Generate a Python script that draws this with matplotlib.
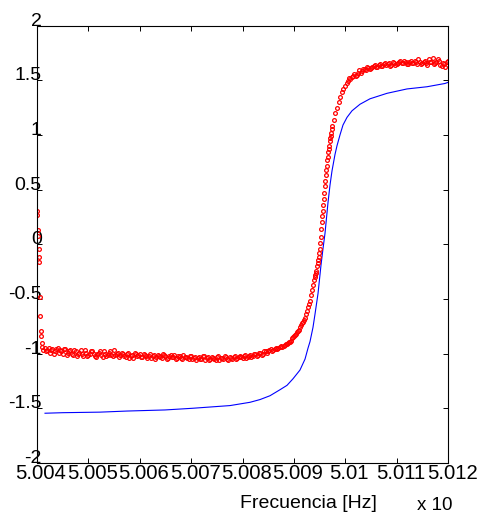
import matplotlib
matplotlib.use("Agg")
import matplotlib.pyplot as plt
from matplotlib.transforms import ScaledTranslation

plt.rcParams['font.family'] = ['Liberation Sans', 'DejaVu Sans']

# ---- data (x in units of 1e9 Hz) ----
red_f_start = [5.004000, 5.004008, 5.004016, 5.004024, 5.004032, 5.004040, 5.004048,
               5.004056, 5.004064, 5.004072, 5.004080, 5.004090, 5.004100, 5.004115]
red_v_start = [0.30, 0.27, 0.13, 0.08, -0.04, -0.12, -0.16,
               -0.48, -0.66, -0.79, -0.84, -0.90, -0.94, -0.97]

red_f_flat = [5.00415, 5.00420, 5.00425, 5.00430, 5.00435, 5.00440, 5.00445, 5.00450, 5.00455, 5.00460,
              5.00465, 5.00470, 5.00475, 5.00480, 5.00485, 5.00490, 5.00495, 5.00500, 5.00505, 5.00510,
              5.00515, 5.00520, 5.00525, 5.00530, 5.00535, 5.00540, 5.00545, 5.00550, 5.00555, 5.00560,
              5.00565, 5.00570, 5.00575, 5.00580, 5.00585, 5.00590, 5.00595, 5.00600, 5.00605, 5.00610,
              5.00615, 5.00620, 5.00625, 5.00630, 5.00635, 5.00640, 5.00645, 5.00650, 5.00655, 5.00660,
              5.00665, 5.00670, 5.00675, 5.00680, 5.00685, 5.00690, 5.00695, 5.00700, 5.00705, 5.00710,
              5.00715, 5.00720, 5.00725, 5.00730, 5.00735, 5.00740, 5.00745, 5.00750, 5.00755, 5.00760,
              5.00765, 5.00770, 5.00775, 5.00780, 5.00785, 5.00790, 5.00795, 5.00800, 5.00805, 5.00810,
              5.00815, 5.00820, 5.00825, 5.00830, 5.00835, 5.00840, 5.00845, 5.00850, 5.00855, 5.00860,
              5.00865, 5.00870, 5.00875, 5.00880]
red_v_flat = [-0.95, -0.97, -0.99, -0.96, -0.98, -0.95, -0.97, -1.00, -0.96, -0.99,
              -0.97, -1.01, -0.98, -1.00, -0.97, -1.02, -0.99, -1.01, -0.98, -1.00,
              -1.03, -0.99, -1.01, -0.98, -1.02, -0.99, -1.01, -0.97, -1.00, -1.03,
              -0.99, -1.02, -1.00, -1.04, -1.01, -0.99, -1.02, -1.00, -1.03, -1.01,
              -1.04, -1.00, -1.02, -1.05, -1.01, -1.03, -1.00, -1.02, -1.04, -1.01,
              -1.03, -1.05, -1.02, -1.04, -1.01, -1.03, -1.05, -1.02, -1.04, -1.06,
              -1.03, -1.05, -1.02, -1.04, -1.06, -1.03, -1.05, -1.03, -1.06, -1.04,
              -1.02, -1.05, -1.03, -1.05, -1.02, -1.04, -1.02, -1.04, -1.01, -1.03,
              -1.01, -1.02, -1.00, -1.01, -0.99, -1.00, -0.98, -0.98, -0.96, -0.97,
              -0.95, -0.95, -0.93, -0.93]

red_f_flat2 = [5.004175, 5.004225, 5.004275, 5.004325, 5.004375, 5.004425, 5.004475, 5.004525, 5.004575, 5.004625,
               5.004675, 5.004725, 5.004775, 5.004825, 5.004875, 5.004925, 5.004975, 5.005025, 5.005075, 5.005125,
               5.005175, 5.005225, 5.005275, 5.005325, 5.005375, 5.005425, 5.005475, 5.005525, 5.005575, 5.005625,
               5.005675, 5.005725, 5.005775, 5.005825, 5.005875, 5.005925, 5.005975, 5.006025, 5.006075, 5.006125,
               5.006175, 5.006225, 5.006275, 5.006325, 5.006375, 5.006425, 5.006475, 5.006525, 5.006575, 5.006625,
               5.006675, 5.006725, 5.006775, 5.006825, 5.006875, 5.006925, 5.006975, 5.007025, 5.007075, 5.007125,
               5.007175, 5.007225, 5.007275, 5.007325, 5.007375, 5.007425, 5.007475, 5.007525, 5.007575, 5.007625,
               5.007675, 5.007725, 5.007775, 5.007825, 5.007875, 5.007925, 5.007975, 5.008025, 5.008075, 5.008125,
               5.008175, 5.008225, 5.008275, 5.008325, 5.008375, 5.008425, 5.008475, 5.008525, 5.008575, 5.008625,
               5.008675, 5.008725, 5.008775]
red_v_flat2 = [-0.98, -0.95, -0.97, -1.00, -0.96, -0.99, -0.98, -0.96, -1.01, -0.98,
               -1.00, -0.97, -1.02, -0.99, -1.00, -0.97, -1.02, -1.00, -0.98, -1.02,
               -1.00, -0.98, -1.03, -1.00, -1.01, -0.98, -1.02, -1.01, -0.99, -1.01,
               -1.00, -1.03, -0.99, -1.02, -1.04, -1.00, -1.01, -1.03, -1.00, -1.02,
               -1.02, -1.04, -1.01, -1.03, -1.02, -1.04, -1.01, -1.05, -1.02, -1.03,
               -1.01, -1.04, -1.02, -1.05, -1.03, -1.04, -1.02, -1.05, -1.03, -1.04,
               -1.05, -1.02, -1.06, -1.03, -1.05, -1.04, -1.06, -1.02, -1.04, -1.05,
               -1.03, -1.06, -1.04, -1.03, -1.05, -1.03, -1.03, -1.02, -1.04, -1.02,
               -1.03, -1.00, -1.02, -0.99, -1.01, -0.98, -0.99, -0.97, -0.98, -0.96,
               -0.96, -0.94, -0.94]

red_f_rise = [5.00882, 5.00884, 5.00886, 5.00888, 5.00890, 5.00892, 5.00894, 5.00896, 5.00898, 5.00900,
              5.00902, 5.00904, 5.00906, 5.00908, 5.00910, 5.00912, 5.00914, 5.00916, 5.00918, 5.00920,
              5.00922, 5.00924, 5.00926, 5.00928, 5.00930, 5.00932, 5.00934, 5.00936, 5.00938, 5.00940,
              5.00941, 5.00942, 5.00943, 5.00944, 5.00945, 5.00946, 5.00947, 5.00948, 5.00949, 5.00950,
              5.00951, 5.00952, 5.00953, 5.00954, 5.00955, 5.00956, 5.00957, 5.00958, 5.00959, 5.00960,
              5.00961, 5.00962, 5.00963, 5.00964, 5.00965, 5.00966, 5.00967, 5.00968, 5.00969, 5.00970,
              5.00971, 5.00972, 5.00973, 5.00974, 5.00975,
              5.00978, 5.00981, 5.00984, 5.00987, 5.00990, 5.00993, 5.00996, 5.01000]
red_v_rise = [-0.92, -0.91, -0.91, -0.90, -0.89, -0.89, -0.88, -0.86, -0.85, -0.84,
              -0.83, -0.82, -0.80, -0.79, -0.78, -0.76, -0.74, -0.72, -0.71, -0.69,
              -0.67, -0.64, -0.61, -0.57, -0.55, -0.52, -0.46, -0.42, -0.37, -0.33,
              -0.30, -0.28, -0.26, -0.24, -0.20, -0.17, -0.14, -0.12, -0.08, -0.04,
              0.01, 0.07, 0.14, 0.20, 0.26, 0.30, 0.36, 0.41, 0.47, 0.53,
              0.58, 0.63, 0.68, 0.72, 0.77, 0.80, 0.84, 0.87, 0.90, 0.94,
              0.97, 0.99, 1.02, 1.05, 1.08,
              1.14, 1.20, 1.25, 1.30, 1.35, 1.39, 1.42, 1.45]

red_f_top = [5.01005, 5.01010, 5.01015, 5.01020, 5.01025, 5.01030, 5.01035, 5.01040, 5.01045, 5.01050,
             5.01055, 5.01060, 5.01065, 5.01070, 5.01075, 5.01080, 5.01085, 5.01090, 5.01095, 5.01100,
             5.01105, 5.01110, 5.01115, 5.01120, 5.01125, 5.01130, 5.01135, 5.01140, 5.01145, 5.01150,
             5.01155, 5.01160, 5.01165, 5.01170, 5.01175, 5.01180, 5.01185, 5.01190, 5.01195, 5.01200]
red_v_top = [1.49, 1.51, 1.54, 1.54, 1.57, 1.57, 1.60, 1.59, 1.61, 1.61,
             1.63, 1.62, 1.64, 1.63, 1.65, 1.64, 1.66, 1.64, 1.66, 1.65,
             1.67, 1.66, 1.68, 1.65, 1.67, 1.66, 1.68, 1.65, 1.67, 1.66,
             1.68, 1.64, 1.67, 1.70, 1.66, 1.69, 1.64, 1.66, 1.62, 1.68]

red_f_top2 = [5.010025, 5.010075, 5.010125, 5.010175, 5.010225, 5.010275, 5.010325, 5.010375, 5.010425, 5.010475,
              5.010525, 5.010575, 5.010625, 5.010675, 5.010725, 5.010775, 5.010825, 5.010875, 5.010925, 5.010975,
              5.011025, 5.011075, 5.011125, 5.011175, 5.011225, 5.011275, 5.011325, 5.011375, 5.011425, 5.011475,
              5.011525, 5.011575, 5.011625, 5.011675, 5.011725, 5.011775, 5.011825, 5.011875, 5.011925, 5.011975]
red_v_top2 = [1.47, 1.52, 1.53, 1.56, 1.55, 1.59, 1.58, 1.60, 1.62, 1.60,
              1.62, 1.64, 1.62, 1.65, 1.63, 1.66, 1.65, 1.63, 1.67, 1.64,
              1.66, 1.68, 1.66, 1.67, 1.65, 1.68, 1.66, 1.67, 1.69, 1.65,
              1.67, 1.66, 1.69, 1.67, 1.65, 1.67, 1.68, 1.63, 1.65, 1.67]

blue_f = [5.004156, 5.004506, 5.005226, 5.005752, 5.006491, 5.007017, 5.007757, 5.008146,
          5.008341, 5.008535, 5.008730, 5.008866, 5.008983, 5.009119, 5.009217, 5.009275,
          5.009314, 5.009372, 5.009411, 5.009470, 5.009528, 5.009567, 5.009606, 5.009664,
          5.009703, 5.009742, 5.009800, 5.009839, 5.009898, 5.009956, 5.010034, 5.010131,
          5.010287, 5.010482, 5.010813, 5.011202, 5.011591, 5.011942, 5.012000]
blue_v = [-1.545, -1.54, -1.535, -1.525, -1.515, -1.50, -1.475, -1.445,
          -1.42, -1.385, -1.33, -1.29, -1.23, -1.15, -1.05, -0.95,
          -0.89, -0.76, -0.64, -0.45, -0.19, -0.04, 0.10, 0.38,
          0.54, 0.67, 0.82, 0.90, 1.00, 1.09, 1.16, 1.22,
          1.28, 1.33, 1.38, 1.42, 1.44, 1.47, 1.48]

x_ticks = [5.004, 5.005, 5.006, 5.007, 5.008, 5.009, 5.010, 5.011, 5.012]
x_tick_labels = ['5.004', '5.005', '5.006', '5.007', '5.008', '5.009', '5.01', '5.011', '5.012']
y_ticks = [-2, -1.5, -1, -0.5, 0, 0.5, 1, 1.5, 2]
y_tick_labels = ['-2', '-1.5', '-1', '-0.5', '0', '0.5', '1', '1.5', '2']

red_f = red_f_start + red_f_flat + red_f_flat2 + red_f_rise + red_f_top + red_f_top2
red_v = red_v_start + red_v_flat + red_v_flat2 + red_v_rise + red_v_top + red_v_top2

# ---- figure ----
fig = plt.figure(figsize=(4.82, 5.17), dpi=100)
ax = fig.add_axes([37 / 482, 54 / 517, 411 / 482, 437.5 / 517])

ax.plot(blue_f, blue_v, color='#0000ff', linewidth=0.8)
ax.plot(red_f, red_v, linestyle='none', marker='o', markersize=2.7,
        markerfacecolor='none', markeredgecolor='#ff0000', markeredgewidth=0.9)

ax.set_xlim(5.004, 5.012)
ax.set_ylim(-2, 2)
ax.set_xticks(x_ticks)
ax.set_xticklabels(x_tick_labels)
ax.set_yticks(y_ticks)
ax.set_yticklabels(y_tick_labels)

for s in ax.spines.values():
    s.set_linewidth(0.8)
    s.set_color('black')

ax.tick_params(axis='both', which='both', direction='in', length=3.6, width=0.7,
               top=True, right=True, labelsize=14, colors='black')
ax.tick_params(axis='x', pad=1.0, labelsize=14.6)
ax.tick_params(axis='y', pad=-3.5)
for lab in ax.get_yticklabels():
    lab.set_verticalalignment('baseline')
shift = ScaledTranslation(4 / 100, 0, fig.dpi_scale_trans)
for lab in ax.get_xticklabels():
    lab.set_transform(lab.get_transform() + shift)

fig.text(308 / 482, (517 - 508.5) / 517, 'Frecuencia [Hz]', ha='center', va='baseline', fontsize=14)
fig.text(417 / 482, (517 - 510) / 517, 'x 10', ha='left', va='baseline', fontsize=13.5)

fig.savefig('out.png', dpi=100)
